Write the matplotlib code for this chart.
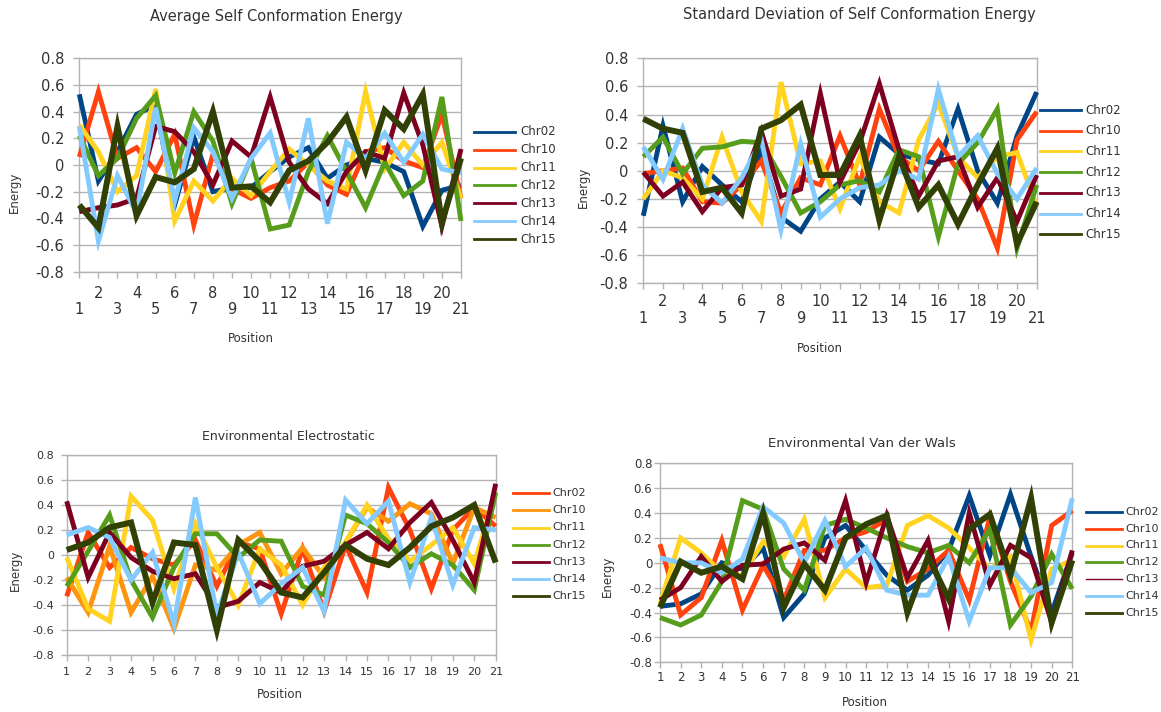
import matplotlib
matplotlib.use("Agg")
import matplotlib.pyplot as plt
from matplotlib.lines import Line2D

plt.rcParams['font.family'] = ['DejaVu Sans']

W, H = 1161, 712

positions = list(range(1, 22))
series_names = ["Chr02", "Chr10", "Chr11", "Chr12", "Chr13", "Chr14", "Chr15"]
ytick_vals = [-0.8, -0.6, -0.4, -0.2, 0.0, 0.2, 0.4, 0.6, 0.8]
ytick_labels = ["-0.8", "-0.6", "-0.4", "-0.2", "0", "0.2", "0.4", "0.6", "0.8"]

titles = ["Average Self Conformation Energy",
          "Standard Deviation of Self Conformation Energy",
          "Environmental Electrostatic",
          "Environmental Van der Wals"]

# Panel 1: Average Self Conformation Energy
avg_02 = [0.53, -0.12, 0.10, 0.38, 0.45, -0.30, 0.21, -0.20, -0.17, -0.17, -0.05, 0.06, 0.13, -0.10, 0.00, 0.05, 0.02, -0.05, -0.46, -0.19, -0.15]
avg_10 = [0.06, 0.55, 0.05, 0.13, -0.05, 0.23, -0.45, 0.08, -0.18, -0.25, -0.17, -0.12, 0.02, -0.15, -0.22, 0.10, 0.13, 0.03, -0.02, 0.38, -0.25]
avg_11 = [0.30, 0.10, -0.20, -0.08, 0.57, -0.42, -0.12, -0.27, -0.10, -0.23, -0.05, 0.12, 0.00, -0.12, -0.18, 0.55, -0.03, 0.17, 0.00, 0.17, -0.25]
avg_12 = [0.22, -0.08, 0.05, 0.35, 0.52, -0.06, 0.40, 0.18, -0.29, 0.05, -0.48, -0.45, -0.05, 0.22, -0.05, -0.32, 0.02, -0.23, -0.12, 0.51, -0.42]
avg_13 = [-0.35, -0.32, -0.30, -0.25, 0.29, 0.25, 0.10, -0.15, 0.18, 0.06, 0.51, 0.02, -0.18, -0.29, -0.05, 0.10, 0.05, 0.54, 0.15, -0.46, 0.12]
avg_14 = [0.29, -0.57, -0.08, -0.36, 0.43, -0.27, 0.28, 0.10, -0.25, 0.05, 0.24, -0.28, 0.35, -0.44, 0.17, 0.05, 0.24, 0.02, 0.23, -0.03, -0.06]
avg_15 = [-0.30, -0.47, 0.29, -0.38, -0.09, -0.13, -0.03, 0.40, -0.17, -0.16, -0.28, -0.04, 0.03, 0.17, 0.36, -0.04, 0.41, 0.27, 0.53, -0.43, 0.05]

# Panel 2: Standard Deviation of Self Conformation Energy
std_02 = [-0.32, 0.32, -0.22, 0.03, -0.10, -0.22, 0.15, -0.33, -0.43, -0.20, -0.08, -0.22, 0.24, 0.12, 0.08, 0.05, 0.44, 0.00, -0.23, 0.25, 0.56]
std_10 = [-0.02, 0.00, 0.02, -0.22, -0.23, -0.10, 0.07, -0.30, -0.05, -0.10, 0.25, -0.10, 0.44, 0.10, 0.00, 0.21, 0.00, -0.20, -0.55, 0.22, 0.42]
std_11 = [-0.20, 0.00, -0.05, -0.20, 0.24, -0.15, -0.36, 0.63, 0.05, 0.07, -0.27, 0.10, -0.22, -0.30, 0.22, 0.48, 0.10, -0.05, 0.10, 0.13, -0.25]
std_12 = [0.10, 0.24, -0.02, 0.16, 0.17, 0.21, 0.20, -0.04, -0.30, -0.22, -0.10, -0.07, -0.15, 0.15, 0.10, -0.47, 0.05, 0.20, 0.44, -0.55, -0.10]
std_13 = [-0.01, -0.18, -0.08, -0.29, -0.12, -0.10, 0.28, -0.18, -0.13, 0.55, -0.08, 0.20, 0.62, 0.15, -0.18, 0.07, 0.10, -0.26, -0.05, -0.36, -0.03]
std_14 = [0.17, -0.06, 0.30, -0.10, -0.23, -0.05, 0.22, -0.42, 0.19, -0.33, -0.20, -0.12, -0.10, 0.00, -0.06, 0.58, 0.10, 0.25, -0.02, -0.20, 0.02]
std_15 = [0.37, 0.30, 0.27, -0.15, -0.12, -0.30, 0.30, 0.36, 0.47, -0.03, -0.03, 0.25, -0.35, 0.10, -0.26, -0.10, -0.38, -0.10, 0.16, -0.52, -0.22]

# Panel 3: Environmental Electrostatic
ele_02 = [-0.33, 0.18, -0.10, 0.06, -0.03, -0.08, 0.12, -0.25, 0.10, 0.05, -0.47, 0.05, -0.45, 0.08, -0.30, 0.54, 0.20, -0.27, 0.20, 0.38, 0.23]
ele_10 = [-0.18, -0.46, 0.07, -0.46, -0.17, -0.59, -0.08, -0.12, 0.08, 0.18, -0.15, 0.06, -0.18, 0.10, 0.38, 0.27, 0.41, 0.33, -0.07, 0.38, 0.30]
ele_11 = [-0.02, -0.43, -0.53, 0.47, 0.28, -0.27, 0.25, -0.10, -0.40, 0.05, -0.08, -0.40, -0.10, 0.10, 0.40, 0.13, -0.05, 0.08, 0.22, -0.07, 0.50]
ele_12 = [-0.25, 0.03, 0.32, -0.20, -0.50, -0.10, 0.17, 0.17, -0.02, 0.12, 0.11, -0.25, -0.32, 0.32, 0.25, 0.10, -0.10, 0.01, -0.08, -0.28, 0.50]
ele_13 = [0.43, -0.18, 0.18, -0.02, -0.13, -0.19, -0.15, -0.42, -0.37, -0.22, -0.30, -0.09, -0.05, 0.08, 0.18, 0.05, 0.26, 0.42, 0.12, -0.22, 0.57]
ele_14 = [0.16, 0.22, 0.14, -0.20, 0.02, -0.55, 0.46, -0.48, 0.02, -0.39, -0.23, -0.10, -0.45, 0.44, 0.25, 0.43, -0.22, 0.30, -0.24, 0.22, 0.20]
ele_15 = [0.04, 0.10, 0.22, 0.26, -0.38, 0.10, 0.08, -0.60, 0.12, -0.05, -0.30, -0.34, -0.14, 0.08, -0.03, -0.08, 0.06, 0.23, 0.30, 0.40, -0.06]

# Panel 4: Environmental Van der Wals
vdw_02 = [-0.35, -0.33, -0.25, 0.00, -0.05, 0.12, -0.44, -0.25, 0.20, 0.30, 0.10, -0.10, -0.22, -0.10, 0.10, 0.54, 0.06, 0.55, 0.05, -0.40, 0.08]
vdw_10 = [0.15, -0.42, -0.28, 0.18, -0.38, -0.02, -0.30, 0.10, 0.10, 0.20, 0.25, 0.35, -0.15, -0.05, 0.10, -0.30, 0.37, -0.15, -0.55, 0.30, 0.42]
vdw_11 = [-0.33, 0.20, 0.08, -0.08, -0.10, 0.17, 0.05, 0.35, -0.28, -0.05, -0.20, -0.18, 0.30, 0.38, 0.28, 0.12, -0.05, 0.05, -0.62, -0.05, 0.02]
vdw_12 = [-0.44, -0.50, -0.42, -0.15, 0.50, 0.43, -0.05, -0.22, 0.30, 0.35, 0.28, 0.20, 0.13, 0.08, 0.14, 0.00, 0.27, -0.50, -0.27, 0.07, -0.21]
vdw_13 = [-0.30, -0.20, 0.05, -0.15, -0.02, -0.01, 0.11, 0.16, 0.02, 0.50, -0.16, 0.38, -0.12, 0.18, -0.47, 0.40, -0.18, 0.14, 0.04, -0.48, 0.10]
vdw_14 = [0.04, 0.00, 0.00, -0.08, 0.03, 0.45, 0.32, 0.00, 0.34, -0.03, 0.12, -0.22, -0.26, -0.26, 0.05, -0.47, -0.04, -0.04, -0.24, -0.16, 0.52]
vdw_15 = [-0.36, 0.01, -0.08, -0.03, -0.13, 0.40, -0.36, -0.01, -0.22, 0.20, 0.31, 0.38, -0.40, 0.05, -0.29, 0.27, 0.39, -0.10, 0.52, -0.48, 0.02]

colors_std = ["#004586", "#ff420e", "#ffd320", "#579d1c", "#7e0021", "#83caff", "#314004"]
colors_ele = ["#ff420e", "#ff950e", "#ffd320", "#579d1c", "#7e0021", "#83caff", "#314004"]

GRID = "#b3b3b3"
TXT = "#333333"

fig = plt.figure(figsize=(W / 100, H / 100), dpi=100)
fig.patch.set_facecolor("white")


def fx(x):
    return x / W


def fy(y):
    return 1 - y / H


def make_axes(l, r, t, b):
    return fig.add_axes([fx(l), fy(b), (r - l) / W, (b - t) / H])


def ftext(x, y, s, **kw):
    fig.text(fx(x), fy(y), s, color=TXT, **kw)


panels = [
    dict(data=[avg_02, avg_10, avg_11, avg_12, avg_13, avg_14, avg_15], colors=colors_std,
         box=(79.3, 461.0, 58.3, 271.7), stagger=True, tfs=10.5, ypad=7.0, xpad=6.0,
         title=(276, 17, 10.5), xlabel=(251, 338), ylabel=(14, 192),
         leg=(474, 515, 520, 131.7, 17.9, 8.5), leg_lw=[2] * 7),
    dict(data=[std_02, std_10, std_11, std_12, std_13, std_14, std_15], colors=colors_std,
         box=(643.3, 1036.7, 58.3, 283.3), stagger=True, tfs=10.5, ypad=7.0, xpad=4.0,
         title=(859, 14, 10.5), xlabel=(820, 349), ylabel=(583, 187),
         leg=(1040, 1081, 1085, 110.0, 20.7, 8.5), leg_lw=[2] * 7),
    dict(data=[ele_02, ele_10, ele_11, ele_12, ele_13, ele_14, ele_15], colors=colors_ele,
         box=(66.7, 495.7, 455.0, 655.0), stagger=False, tfs=8.0, ypad=5.0, xpad=4.5,
         title=(288, 436, 9), xlabel=(280, 695), ylabel=(15, 570),
         leg=(513, 549, 552, 493.3, 17.1, 8), leg_lw=[2] * 7),
    dict(data=[vdw_02, vdw_10, vdw_11, vdw_12, vdw_13, vdw_14, vdw_15], colors=colors_std,
         box=(660.0, 1072.3, 463.3, 662.3), stagger=False, tfs=8.5, ypad=1.5, xpad=2.5,
         title=(862, 443, 9.5), xlabel=(865, 703), ylabel=(607, 576),
         leg=(1086, 1122, 1125, 511.7, 16.9, 8), leg_lw=[2, 2, 2, 2, 1, 2, 2]),
]

for k, p in enumerate(panels):
    ax = make_axes(*p["box"])
    ax.set_facecolor("white")
    for i, (vals, col) in enumerate(zip(p["data"], p["colors"])):
        lw = 4.3 if i == 6 else 3.5
        ax.plot(positions, vals, color=col, lw=lw, solid_joinstyle="miter",
                solid_capstyle="butt", clip_on=False, zorder=3 + i)
    ax.set_xlim(1, 21)
    ax.set_ylim(-0.8, 0.8)
    ax.set_yticks(ytick_vals)
    ax.set_yticklabels(ytick_labels)
    ax.set_xticks(positions)
    if p["stagger"]:
        ax.set_xticklabels([str(v) if v % 2 == 0 else "\n" + str(v) for v in positions],
                           linespacing=1.15)
    else:
        ax.set_xticklabels([str(v) for v in positions])
    ax.grid(axis="y", color=GRID, lw=1.0, zorder=0)
    ax.set_axisbelow(True)
    for s in ax.spines.values():
        s.set_color(GRID)
        s.set_linewidth(1.0)
    ax.tick_params(axis="both", direction="out", length=4, width=1.0, color=GRID,
                   labelcolor=TXT, labelsize=p["tfs"])
    ax.tick_params(axis="y", pad=p["ypad"])
    ax.tick_params(axis="x", pad=p["xpad"])

    tx, ty, tfs = p["title"]
    ftext(tx, ty, titles[k], ha="center", va="center", fontsize=tfs)
    ftext(p["xlabel"][0], p["xlabel"][1], "Position", ha="center", va="center", fontsize=8.5)
    ftext(p["ylabel"][0], p["ylabel"][1], "Energy", ha="center", va="center",
          fontsize=8.5, rotation=90)

    lx0, lx1, ltx, ly0, ldy, lfs = p["leg"]
    for i, (name, col) in enumerate(zip(series_names, p["colors"])):
        yy = ly0 + i * ldy
        fig.add_artist(Line2D([fx(lx0), fx(lx1)], [fy(yy), fy(yy)],
                              transform=fig.transFigure, color=col, lw=p["leg_lw"][i]))
        ftext(ltx, yy, name, ha="left", va="center", fontsize=lfs)

fig.savefig("out.png", dpi=100, facecolor="white")
